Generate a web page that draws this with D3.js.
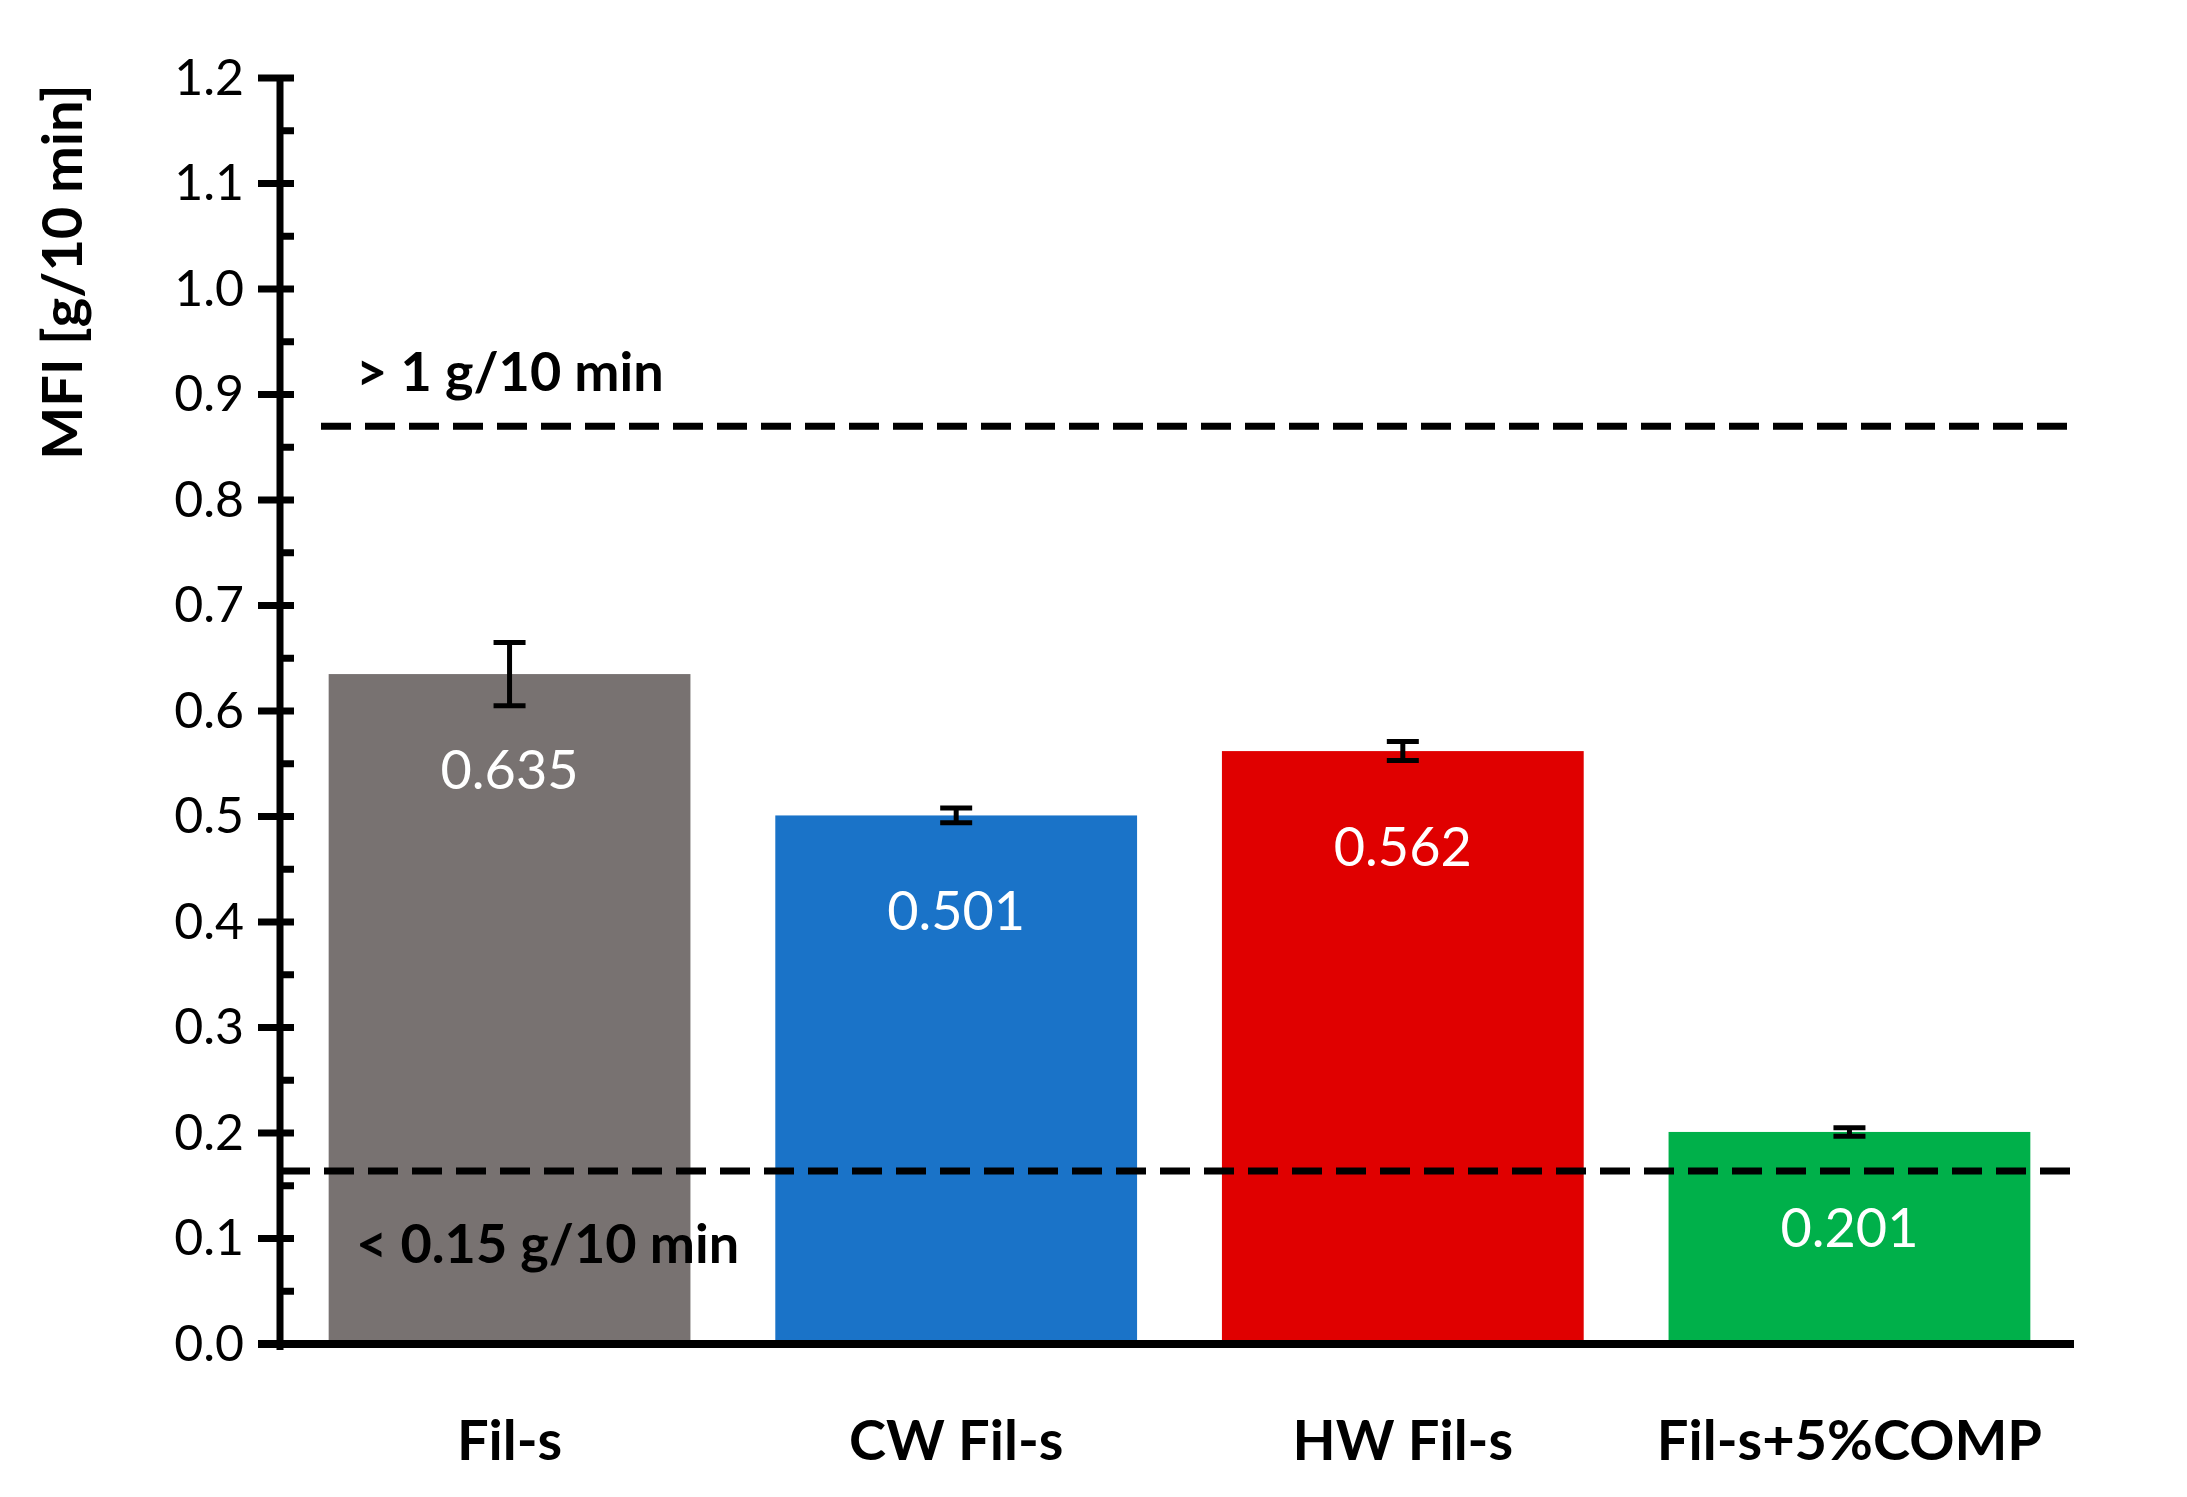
<!DOCTYPE html>
<html><head><meta charset="utf-8">
<script src="https://cdn.jsdelivr.net/npm/d3@7"></script>
<style>body{margin:0;background:#fff}</style></head>
<body><svg id="c" width="2187" height="1497"></svg>
<script>
const categories = ["Fil-s","CW Fil-s","HW Fil-s","Fil-s+5%COMP"];
const values = [0.635,0.501,0.562,0.201];
const errors = [0.030,0.007,0.009,0.004];
const labels = ["0.635","0.501","0.562","0.201"];
const colors = ["#787271","#1A73C8","#E00000","#00B04A"];
const yTicks = [0,0.1,0.2,0.3,0.4,0.5,0.6,0.7,0.8,0.9,1.0,1.1,1.2];
const minorTicks = [0.05,0.15,0.25,0.35,0.45,0.55,0.65,0.75,0.85,0.95,1.05,1.15];
const limits = [{v:0.870,text:"> 1 g/10 min"},{v:0.164,text:"< 0.15 g/10 min"}];

const svg = d3.select("#c");
const font = "Lato, 'Open Sans', sans-serif";
const x0 = 280, x1 = 2074;
const y = d3.scaleLinear().domain([0,1.2]).range([1344,78]);
const x = d3.scaleBand().domain(categories).range([x0+4,x1+1]).paddingInner(0.19).paddingOuter(0.1);

// bars
svg.selectAll("rect.bar").data(values).enter().append("rect")
  .attr("x",(d,i)=>x(categories[i])).attr("width",x.bandwidth())
  .attr("y",d=>y(d)).attr("height",d=>y(0)-y(d)).attr("fill",(d,i)=>colors[i]);

// error bars
values.forEach((v,i)=>{
  const cx = x(categories[i])+x.bandwidth()/2, e=errors[i];
  const g = svg.append("g").attr("stroke","#000").attr("stroke-width",5);
  g.append("line").attr("x1",cx).attr("x2",cx).attr("y1",y(v+e)).attr("y2",y(v-e));
  g.append("line").attr("x1",cx-16).attr("x2",cx+16).attr("y1",y(v+e)).attr("y2",y(v+e));
  g.append("line").attr("x1",cx-16).attr("x2",cx+16).attr("y1",y(v-e)).attr("y2",y(v-e));
  svg.append("text").attr("x",cx).attr("y",y(v)+115).attr("text-anchor","middle")
    .attr("font-family",font).attr("font-size",54).attr("fill","#fff").text(labels[i]);
});

// limit lines
svg.append("line").attr("x1",321).attr("x2",x1).attr("y1",y(limits[0].v)).attr("y2",y(limits[0].v))
  .attr("stroke","#000").attr("stroke-width",7).attr("stroke-dasharray","30,14");
svg.append("line").attr("x1",x0).attr("x2",x1).attr("y1",y(limits[1].v)).attr("y2",y(limits[1].v))
  .attr("stroke","#000").attr("stroke-width",7).attr("stroke-dasharray","30,14");
svg.append("text").attr("x",356).attr("y",391).attr("font-family",font).attr("font-weight","bold")
  .attr("font-size",54).text(limits[0].text);
svg.append("text").attr("x",356).attr("y",1263).attr("font-family",font).attr("font-weight","bold")
  .attr("font-size",54).text(limits[1].text);

// y axis
const ax = svg.append("g").attr("transform",`translate(${x0},0)`)
  .call(d3.axisLeft(y).tickValues(yTicks).tickFormat(d3.format(".1f")).tickSize(0).tickPadding(36));
ax.select(".domain").remove();
ax.selectAll("text").attr("font-family",font).attr("font-size",50).attr("fill","#000");
svg.append("line").attr("x1",x0).attr("x2",x0).attr("y1",y(1.2)).attr("y2",y(0)+6).attr("stroke","#000").attr("stroke-width",7);
svg.selectAll("line.maj").data(yTicks).enter().append("line")
  .attr("x1",x0-22).attr("x2",x0+14).attr("y1",d=>y(d)).attr("y2",d=>y(d)).attr("stroke","#000").attr("stroke-width",7);
svg.selectAll("line.min").data(minorTicks).enter().append("line")
  .attr("x1",x0).attr("x2",x0+14).attr("y1",d=>y(d)).attr("y2",d=>y(d)).attr("stroke","#000").attr("stroke-width",7);
// x axis
svg.append("line").attr("x1",x0-22).attr("x2",x1).attr("y1",y(0)).attr("y2",y(0)).attr("stroke","#000").attr("stroke-width",8);
svg.selectAll("text.cat").data(categories).enter().append("text")
  .attr("x",d=>x(d)+x.bandwidth()/2).attr("y",1460).attr("text-anchor","middle")
  .attr("font-family",font).attr("font-weight","bold").attr("font-size",56).text(d=>d);

svg.append("text").attr("transform","translate(82,272) rotate(-90)").attr("text-anchor","middle")
  .attr("font-family",font).attr("font-weight","bold").attr("font-size",56).text("MFI [g/10 min]");
</script></body></html>
